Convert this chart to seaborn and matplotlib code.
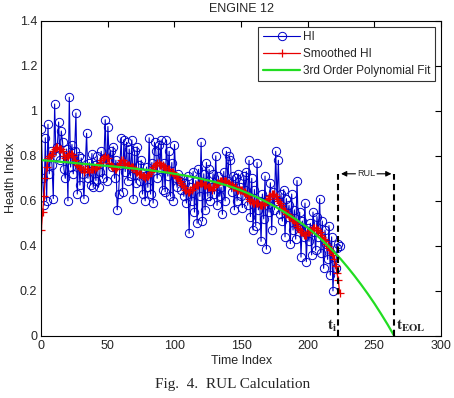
import numpy as np
import seaborn as sns
from matplotlib import pyplot as plt

# health index, one value per time index 0..224
hi = [0.92, 0.70, 0.58, 0.88, 0.60, 0.94, 0.72, 0.82, 0.76, 0.61, 1.03, 0.80, 0.84, 0.95, 0.78,
      0.91, 0.86, 0.74, 0.70, 0.83, 0.60, 1.06, 0.75, 0.85, 0.72, 0.82, 0.99, 0.63, 0.80, 0.67,
      0.79, 0.72, 0.61, 0.75, 0.90, 0.70, 0.77, 0.67, 0.81, 0.66, 0.76, 0.69, 0.80, 0.66, 0.73,
      0.82, 0.70, 0.79, 0.96, 0.69, 0.93, 0.78, 0.82, 0.75, 0.84, 0.70, 0.78, 0.56, 0.63, 0.76,
      0.88, 0.64, 0.87, 0.73, 0.86, 0.69, 0.83, 0.71, 0.87, 0.61, 0.82, 0.68, 0.84, 0.76, 0.69,
      0.78, 0.63, 0.71, 0.60, 0.75, 0.66, 0.88, 0.63, 0.77, 0.59, 0.86, 0.82, 0.70, 0.85, 0.74,
      0.87, 0.65, 0.77, 0.64, 0.87, 0.71, 0.82, 0.62, 0.77, 0.60, 0.85, 0.70, 0.66, 0.72, 0.69,
      0.65, 0.70, 0.62, 0.68, 0.59, 0.71, 0.455, 0.66, 0.60, 0.73, 0.55, 0.69, 0.50, 0.74, 0.62,
      0.86, 0.51, 0.72, 0.56, 0.77, 0.62, 0.74, 0.60, 0.66, 0.72, 0.63, 0.80, 0.58, 0.71, 0.62,
      0.66, 0.54, 0.73, 0.60, 0.82, 0.69, 0.80, 0.78, 0.64, 0.71, 0.56, 0.70, 0.60, 0.72, 0.66,
      0.62, 0.57, 0.71, 0.65, 0.73, 0.58, 0.78, 0.53, 0.70, 0.47, 0.65, 0.49, 0.77, 0.56, 0.60,
      0.42, 0.63, 0.52, 0.71, 0.385, 0.61, 0.55, 0.68, 0.47, 0.64, 0.56, 0.82, 0.60, 0.78, 0.54,
      0.63, 0.51, 0.65, 0.44, 0.61, 0.53, 0.58, 0.41, 0.63, 0.47, 0.56, 0.43, 0.69, 0.49, 0.55,
      0.35, 0.51, 0.44, 0.59, 0.33, 0.48, 0.42, 0.50, 0.36, 0.55, 0.46, 0.38, 0.53, 0.44, 0.61,
      0.37, 0.51, 0.30, 0.47, 0.41, 0.34, 0.49, 0.27, 0.44, 0.20, 0.35, 0.30, 0.39, 0.41, 0.40]

smoothed = [0.47, 0.55, 0.62, 0.70, 0.75, 0.79, 0.80, 0.80, 0.81, 0.82, 0.83, 0.84, 0.84, 0.83, 0.83,
            0.83, 0.82, 0.80, 0.79, 0.80, 0.80, 0.81, 0.81, 0.81, 0.80, 0.78, 0.77, 0.76, 0.75, 0.75,
            0.74, 0.74, 0.73, 0.74, 0.74, 0.74, 0.73, 0.74, 0.74, 0.74, 0.74, 0.75, 0.75, 0.76, 0.77,
            0.78, 0.79, 0.79, 0.80, 0.79, 0.79, 0.77, 0.76, 0.75, 0.75, 0.74, 0.74, 0.75, 0.76, 0.77,
            0.78, 0.78, 0.77, 0.77, 0.76, 0.76, 0.76, 0.75, 0.75, 0.75, 0.74, 0.73, 0.73, 0.72, 0.72,
            0.72, 0.71, 0.71, 0.70, 0.71, 0.71, 0.72, 0.73, 0.74, 0.75, 0.76, 0.76, 0.77, 0.77, 0.76,
            0.76, 0.76, 0.75, 0.75, 0.74, 0.74, 0.74, 0.73, 0.73, 0.73, 0.72, 0.71, 0.70, 0.70, 0.69,
            0.68, 0.67, 0.66, 0.65, 0.65, 0.64, 0.64, 0.65, 0.65, 0.66, 0.66, 0.67, 0.67, 0.67, 0.68,
            0.68, 0.68, 0.67, 0.67, 0.67, 0.66, 0.66, 0.66, 0.65, 0.66, 0.66, 0.67, 0.68, 0.68, 0.69,
            0.69, 0.69, 0.69, 0.69, 0.69, 0.68, 0.68, 0.67, 0.67, 0.66, 0.66, 0.66, 0.65, 0.65, 0.65,
            0.65, 0.65, 0.64, 0.64, 0.63, 0.62, 0.61, 0.60, 0.60, 0.59, 0.59, 0.59, 0.59, 0.59, 0.58,
            0.58, 0.58, 0.58, 0.59, 0.60, 0.61, 0.62, 0.62, 0.63, 0.63, 0.63, 0.62, 0.61, 0.60, 0.59,
            0.58, 0.57, 0.56, 0.55, 0.54, 0.54, 0.53, 0.53, 0.52, 0.52, 0.51, 0.50, 0.49, 0.48, 0.47,
            0.46, 0.46, 0.45, 0.45, 0.45, 0.46, 0.46, 0.47, 0.47, 0.48, 0.48, 0.48, 0.47, 0.47, 0.46,
            0.45, 0.44, 0.43, 0.42, 0.41, 0.40, 0.39, 0.38, 0.37, 0.36, 0.34, 0.31, 0.28, 0.25, 0.19]

# polynomial fit curve read every 5 time units
fit_x = list(range(0, 270, 5))
fit_y = [0.781, 0.778, 0.776, 0.773, 0.771, 0.768, 0.765, 0.763, 0.760, 0.757,
         0.755, 0.752, 0.749, 0.746, 0.743, 0.740, 0.737, 0.733, 0.729, 0.725,
         0.720, 0.715, 0.710, 0.704, 0.698, 0.691, 0.684, 0.676, 0.667, 0.657,
         0.646, 0.634, 0.621, 0.607, 0.592, 0.576, 0.559, 0.541, 0.522, 0.502,
         0.480, 0.456, 0.430, 0.402, 0.372, 0.340, 0.305, 0.268, 0.229, 0.188,
         0.145, 0.099, 0.051, 0.000]

t_i = 223
t_eol = 265
rul_level = 0.72

sns.set_style("white")
plt.rcParams['font.family'] = ['Liberation Sans', 'DejaVu Sans']
plt.rcParams['mathtext.fontset'] = 'stix'

fig = plt.figure(figsize=(4.54, 3.98), dpi=100)
ax = fig.add_axes([0.091, 0.156, 0.880, 0.792])

blue = '#0000c8'
red = '#e80000'
t = np.arange(len(hi))
sns.lineplot(x=t, y=hi, ax=ax, color=blue, lw=0.8, marker='o', markersize=6,
             markerfacecolor='none', markeredgecolor=blue, markeredgewidth=0.7,
             sort=False, errorbar=None, label='HI')
sns.lineplot(x=np.arange(len(smoothed)), y=smoothed, ax=ax, color=red, lw=0.9,
             marker='+', markersize=6, markeredgecolor=red, markeredgewidth=0.9,
             sort=False, errorbar=None, label='Smoothed HI')
sns.lineplot(x=fit_x, y=fit_y, ax=ax, color='#22dd22', lw=1.6, sort=False,
             errorbar=None, label='3rd Order Polynomial Fit')

# RUL markers
ax.plot([t_i, t_i], [0, rul_level], color='black', lw=1.5, ls=(0, (3, 2)))
ax.plot([t_eol, t_eol], [0, rul_level], color='black', lw=1.5, ls=(0, (3, 2)))
mid = (t_i + t_eol) / 2
ax.text(mid, rul_level, 'RUL', fontsize=6.5, ha='center', va='center')
ax.annotate('', xy=(t_i, rul_level), xytext=(mid - 6, rul_level),
            arrowprops=dict(arrowstyle='-|>', color='black', lw=0.8, mutation_scale=8))
ax.annotate('', xy=(t_eol, rul_level), xytext=(mid + 6, rul_level),
            arrowprops=dict(arrowstyle='-|>', color='black', lw=0.8, mutation_scale=8))
ax.text(t_i - 1, 0.01, r'$\mathbf{t_i}$', fontsize=11, ha='right', va='bottom')
ax.text(t_eol + 1, 0.01, r'$\mathbf{t_{EOL}}$', fontsize=11, ha='left', va='bottom')

ax.set_xlim(0, 300)
ax.set_ylim(0, 1.4)
ax.set_xticks(range(0, 301, 50))
ax.set_yticks([0, 0.2, 0.4, 0.6, 0.8, 1.0, 1.2, 1.4])
ax.set_yticklabels(['0', '0.2', '0.4', '0.6', '0.8', '1', '1.2', '1.4'])
ax.tick_params(direction='in', top=True, right=True, labelsize=9, length=4, width=0.8,
               color='black', pad=3)
for s in ax.spines.values():
    s.set_color('black')
    s.set_linewidth(0.8)

ax.set_title('ENGINE 12', fontsize=9, pad=6)
ax.set_xlabel('Time Index', fontsize=9, labelpad=2)
ax.set_ylabel('Health Index', fontsize=9, labelpad=2)

leg = ax.legend(loc='upper right', fontsize=8.5, frameon=True, fancybox=False,
                edgecolor='black', handlelength=3.2, borderaxespad=0.5,
                labelspacing=0.4, handletextpad=0.2, borderpad=0.4)
leg.get_frame().set_linewidth(0.8)

fig.text(0.513, 0.018, 'Fig.  4.  RUL Calculation', fontsize=11, ha='center',
         va='bottom', family=['Liberation Serif', 'DejaVu Serif'])

plt.savefig('out.png', dpi=100)
